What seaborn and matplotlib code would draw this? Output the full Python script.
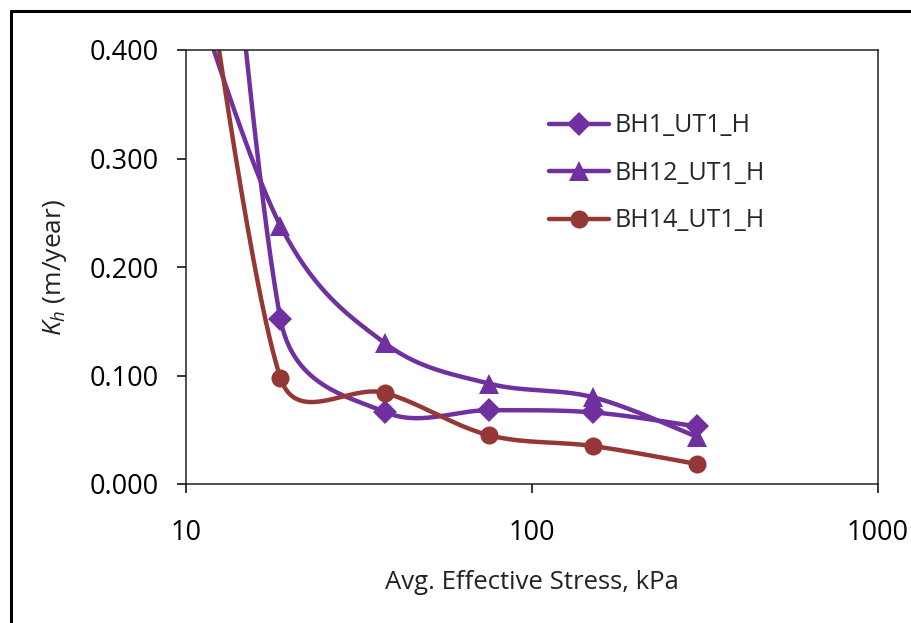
import numpy as np
import matplotlib
matplotlib.use("Agg")
import matplotlib.pyplot as plt
from matplotlib.lines import Line2D
from matplotlib.ticker import FormatStrFormatter, FixedLocator, NullLocator
import seaborn as sns

# ── data (first point sits off-chart at 9.375 kPa, only its curve shows) ──
stress = [9.375, 18.75, 37.5, 75, 150, 300]
bh1_kh = [1.09, 0.152, 0.0665, 0.068, 0.066, 0.053]
bh12_kh = [0.504, 0.238, 0.130, 0.0926, 0.080, 0.0435]
bh14_kh = [0.666, 0.0978, 0.084, 0.045, 0.035, 0.0184]
series_names = ["BH1_UT1_H", "BH12_UT1_H", "BH14_UT1_H"]

PURPLE = "#7030A0"
RED = "#953735"

sns.set_style("ticks")
plt.rcParams["font.family"] = ["Open Sans", "DejaVu Sans"]
plt.rcParams["mathtext.fontset"] = "custom"
plt.rcParams["mathtext.rm"] = "Open Sans"
plt.rcParams["mathtext.it"] = "Open Sans:italic"

fig = plt.figure(figsize=(9.11, 6.23), dpi=100)
ax = fig.add_axes([186 / 911, 1 - 484 / 623, 692 / 911, 434 / 623])
ax.set_xscale("log")
ax.set_xlim(10, 1000)
ax.set_ylim(0, 0.4)


def excel_smooth(xd, yd, n=60):
    """Excel-like smoothed line: Bezier segments built in display space."""
    P = ax.transData.transform(np.column_stack([xd, yd]))
    N = len(P)
    t = np.linspace(0, 1, n)[:, None]
    pts = []
    for i in range(N - 1):
        p0 = P[i - 1] if i > 0 else P[i]
        p1, p2 = P[i], P[i + 1]
        p3 = P[i + 2] if i + 2 < N else P[i + 1]
        d12 = np.linalg.norm(p2 - p1)
        d02 = np.linalg.norm(p2 - p0)
        d13 = np.linalg.norm(p3 - p1)
        f1 = min(1 / 6, d12 / (2 * d02)) if d02 > 0 else 0
        f2 = min(1 / 6, d12 / (2 * d13)) if d13 > 0 else 0
        c1 = p1 + f1 * (p2 - p0)
        c2 = p2 - f2 * (p3 - p1)
        seg = ((1 - t) ** 3) * p1 + 3 * t * (1 - t) ** 2 * c1 + 3 * t ** 2 * (1 - t) * c2 + t ** 3 * p2
        pts.append(seg if i == 0 else seg[1:])
    pts = np.vstack(pts)
    d = ax.transData.inverted().transform(pts)
    return d[:, 0], d[:, 1]


styles = [
    (bh1_kh, PURPLE, "D", 12),
    (bh12_kh, PURPLE, "^", 14),
    (bh14_kh, RED, "o", 13),
]

handles = []
for (vals, col, mk, ms), name in zip(styles, series_names):
    sx, sy = excel_smooth(stress, vals)
    sns.lineplot(x=sx, y=sy, sort=False, estimator=None, color=col, lw=3.2, ax=ax)
    ax.plot(stress, vals, linestyle="none", marker=mk, markersize=ms,
            color=col, markeredgewidth=0)
    handles.append(Line2D([], [], color=col, lw=3.2, marker=mk, markersize=ms,
                          markeredgewidth=0))

ax.yaxis.set_major_locator(FixedLocator([0, 0.1, 0.2, 0.3, 0.4]))
ax.yaxis.set_major_formatter(FormatStrFormatter("%.3f"))
ax.xaxis.set_major_locator(FixedLocator([10, 100, 1000]))
ax.xaxis.set_minor_locator(NullLocator())
ax.set_xticklabels(["10", "100", "1000"])

ax.tick_params(axis="both", which="major", direction="out", length=6.5, width=1.1,
               colors="black", labelsize=19.5)
ax.tick_params(axis="x", pad=19)
ax.tick_params(axis="y", pad=13)
for sp in ax.spines.values():
    sp.set_visible(True)
    sp.set_linewidth(1.1)
    sp.set_color("#222222")

ax.set_xlabel("Avg. Effective Stress, kPa", fontsize=18.5, labelpad=16, color="#222222")
ax.set_ylabel(r"$K_h$ (m/year)", fontsize=19, labelpad=15, color="#222222")

ax.legend(handles, series_names, loc="upper left", bbox_to_anchor=(0.5246, 0.854),
          frameon=False, fontsize=18, handlelength=2.4, handletextpad=0.2,
          labelspacing=0.9, borderaxespad=0, borderpad=0)

# outer frame of the original picture (left and top edges)
fig.add_artist(Line2D([10.5 / 911, 10.5 / 911], [0, 1 - 10.5 / 623], color="black", lw=2.2))
fig.add_artist(Line2D([10.5 / 911, 1], [1 - 10.5 / 623, 1 - 10.5 / 623], color="black", lw=2.2))

fig.savefig("out.png", dpi=100)
